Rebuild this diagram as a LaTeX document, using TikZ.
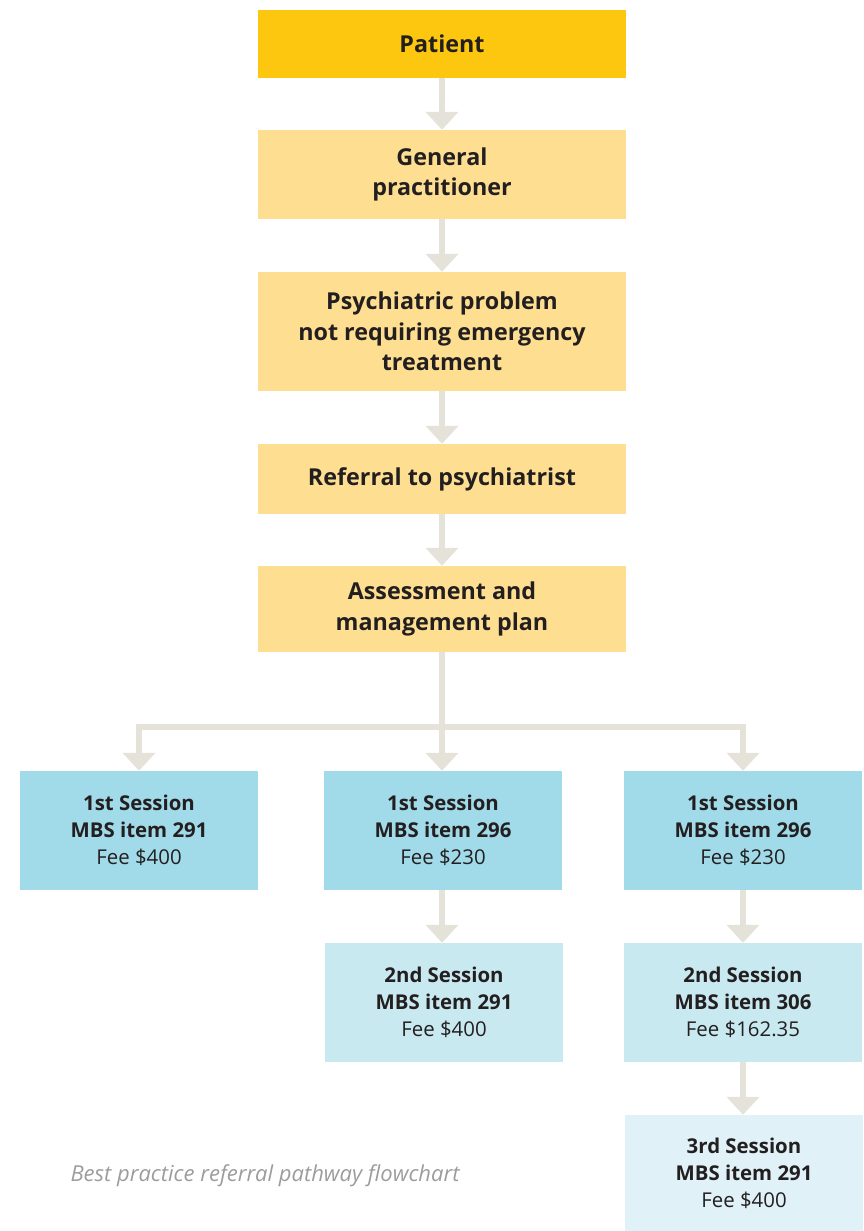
\documentclass[tikz,border=0pt]{standalone}
\usepackage{fontspec}
\setmainfont{Open Sans}
\usetikzlibrary{arrows.meta}
\definecolor{patientyellow}{HTML}{FDC70F}
\definecolor{stepyellow}{HTML}{FEDF91}
\definecolor{blueone}{HTML}{A1DAE8}
\definecolor{bluetwo}{HTML}{C8E9F0}
\definecolor{bluethree}{HTML}{E0F2F7}
\definecolor{flowgrey}{HTML}{E5E2DA}
\definecolor{inkdark}{HTML}{231F20}
\definecolor{captiongrey}{HTML}{9C9C9C}
\tikzset{
  stagebox/.style={fill=stepyellow,minimum width=368pt,inner sep=0pt,align=center,
    text=inkdark,font=\fontsize{23.3}{30.5}\selectfont\bfseries},
  sessionbox/.style={fill=blueone,minimum width=238pt,minimum height=119pt,inner sep=0pt,
    align=center,text=inkdark,font=\fontsize{20.4}{27}\selectfont},
  flow/.style={draw=flowgrey,line width=6pt,line join=miter,
    -{Triangle[width=32pt,length=18pt,fill=flowgrey]}}
}
\newcommand{\session}[3]{\textbf{#1}\\\textbf{MBS item #2}\\Fee \$#3}
\begin{document}
\begin{tikzpicture}[x=1pt,y=-1pt]
\useasboundingbox (0,0) rectangle (864,1231);
% main column
\node[stagebox,fill=patientyellow,minimum height=68pt] (patient) at (442,44) {Patient};
\node[stagebox,minimum height=89pt] (gp) at (442,174.5) {General\\practitioner};
\node[stagebox,minimum height=119pt] (problem) at (442,331.5) {Psychiatric problem\\not requiring emergency\\treatment};
\node[stagebox,minimum height=70pt] (referral) at (442,479) {Referral to psychiatrist};
\node[stagebox,minimum height=86pt] (assess) at (442,609) {Assessment and\\management plan};
% sessions
\node[sessionbox] (s1a) at (139,830.5) {\session{1st Session}{291}{400}};
\node[sessionbox] (s1b) at (443,830.5) {\session{1st Session}{296}{230}};
\node[sessionbox] (s1c) at (743,830.5) {\session{1st Session}{296}{230}};
\node[sessionbox,fill=bluetwo] (s2b) at (444,1002.5) {\session{2nd Session}{291}{400}};
\node[sessionbox,fill=bluetwo] (s2c) at (743,1002.5) {\session{2nd Session}{306}{162.35}};
\node[sessionbox,fill=bluethree,minimum height=116pt] (s3c) at (744,1173) {\session{3rd Session}{291}{400}};
\node[anchor=west,text=captiongrey,font=\fontsize{22}{26}\selectfont\itshape] (caption) at (67,1176) {Best practice referral pathway flowchart};
% connectors
\coordinate (split) at (442,727);
\draw[flow] (patient) -- (gp);
\draw[flow] (gp) -- (problem);
\draw[flow] (problem) -- (referral);
\draw[flow] (referral) -- (assess);
\draw[flow] (assess.south) -- (assess.south|-s1b.north);
\draw[flow] (split) -| (s1a.north);
\draw[flow] (split) -| (s1c.north);
\draw[flow] (assess.south|-s1b.south) -- (assess.south|-s2b.north);
\draw[flow] (s1c) -- (s2c);
\draw[flow] (s2c.south) -- (s2c.south|-s3c.north);
\end{tikzpicture}
\end{document}
